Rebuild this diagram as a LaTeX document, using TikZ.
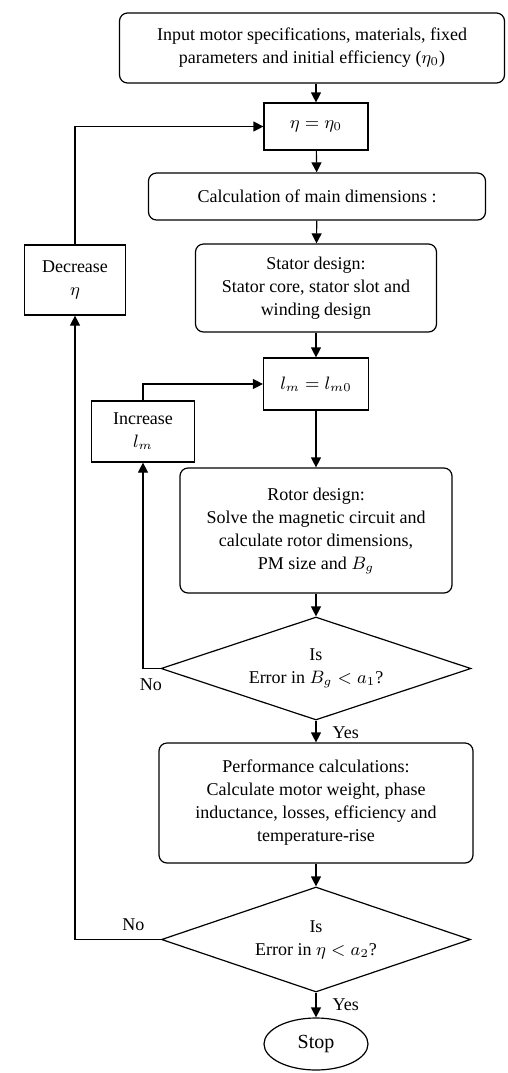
\documentclass[tikz,border=0pt]{standalone}
\usepackage{fontspec}
\setmainfont{Liberation Serif}
\usetikzlibrary{arrows.meta,positioning,shapes.geometric}

\begin{document}
\begin{tikzpicture}[x=.5pt,y=-.5pt,>={Triangle[length=5pt,width=5pt]},line width=.6pt,
 every node/.style={font=\fontsize{9}{11.5}\selectfont,align=center,inner sep=1pt},
 pbox/.style={draw},
 rbox/.style={draw,rounded corners=4pt},
 dec/.style={draw,diamond,shape aspect=3,inner sep=0pt},
 term/.style={draw,ellipse,font=\fontsize{10}{12}\selectfont}]
 \useasboundingbox (0,0) rectangle (508,1073);
 \node[rbox,minimum width=192.5pt,minimum height=35pt] (inp) at (312,48) {Input motor specifications, materials, fixed\\parameters and initial efficiency ($\eta_0$)};
 \node[pbox,minimum width=52pt,minimum height=23.5pt] (eta) at (316,126.5) {$\eta=\eta_0$};
 \node[rbox,minimum width=168.5pt,minimum height=23.5pt] (calc) at (317,196.5) {Calculation of main dimensions :};
 \node[rbox,minimum width=120.5pt,minimum height=44pt] (stat) at (316,288) {Stator design:\\Stator core, stator slot and\\winding design};
 \node[pbox,minimum width=50.5pt,minimum height=35pt] (decr) at (75,280) {Decrease\\$\eta$};
 \node[pbox,minimum width=52.5pt,minimum height=26pt] (im) at (316,384) {$l_m=l_{m0}$};
 \node[pbox,minimum width=51.5pt,minimum height=30.5pt] (incr) at (143,431.5) {Increase\\$l_m$};
 \node[rbox,minimum width=136pt,minimum height=62.5pt] (rot) at (316,530.5) {Rotor design:\\Solve the magnetic circuit and\\calculate rotor dimensions,\\PM size and $B_g$};
 \node[dec,minimum width=155pt,minimum height=51.5pt] (err1) at (316,668.5) {Is\\Error in $B_g<a_1$?};
 \node[rbox,minimum width=157pt,minimum height=60pt] (perf) at (316,803) {Performance calculations:\\Calculate motor weight, phase\\inductance, losses, efficiency and\\temperature-rise};
 \node[dec,minimum width=154.5pt,minimum height=52.5pt] (err2) at (316,939.5) {Is\\Error in $\eta<a_2$?};
 \node[term,minimum width=52pt,minimum height=26pt] (stop) at (316,1044) {Stop};
 \draw[->] (inp.south -| eta.north)--(eta.north);\draw[->] (eta)--(calc);
 \draw[->] (calc)--(stat);\draw[->] (stat)--(im);\draw[->] (im)--(rot);
 \draw[->] (rot)--(err1);\draw[->] (err1)--(perf);\draw[->] (perf)--(err2);\draw[->] (err2)--(stop);
 \draw[->] (err1.west)-|(incr.south);\draw[->] (incr.north)|-(im.west);
 \draw[->] (err2.west)-|(decr.south);\draw[->] (decr.north)|-(eta.west);
 \node[anchor=north east] (no1) at ([xshift=2pt,yshift=-4pt]err1.west) {No};
 \node[anchor=south east] (no2) at ([xshift=-7pt,yshift=3pt]err2.west) {No};
 \node[anchor=north west] (yes1) at ([xshift=7pt,yshift=-2pt]err1.south) {Yes};
 \node[anchor=north west] (yes2) at ([xshift=7pt,yshift=-2pt]err2.south) {Yes};
\end{tikzpicture}
\end{document}
